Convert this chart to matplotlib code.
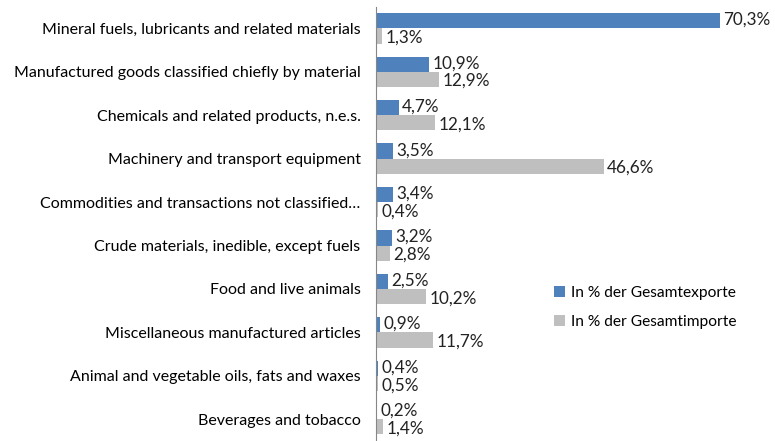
import numpy as np
import matplotlib.pyplot as plt

plt.rcParams['font.family'] = ['Lato', 'DejaVu Sans']

# Daten
kategorien = [
    'Mineral fuels, lubricants and related materials',
    'Manufactured goods classified chiefly by material',
    'Chemicals and related products, n.e.s.',
    'Machinery and transport equipment',
    'Commodities and transactions not classified…',
    'Crude materials, inedible, except fuels',
    'Food and live animals',
    'Miscellaneous manufactured articles',
    'Animal and vegetable oils, fats and waxes',
    'Beverages and tobacco',
]
exporte = [70.3, 10.9, 4.7, 3.5, 3.4, 3.2, 2.5, 0.9, 0.4, 0.2]
importe = [1.3, 12.9, 12.1, 46.6, 0.4, 2.8, 10.2, 11.7, 0.5, 1.4]

blau = '#4F81BD'
grau = '#BFBFBF'

fig = plt.figure(figsize=(7.75, 4.41), dpi=100)
ax = fig.add_axes([0.485, 0.0, 0.505, 0.985])

y = np.arange(len(kategorien))
h = 0.35
ax.barh(y - h / 2, exporte, height=h, color=blau, label='In % der Gesamtexporte')
ax.barh(y + h / 2, importe, height=h, color=grau, label='In % der Gesamtimporte')

for yi, v in zip(y, exporte):
    ax.text(v + 0.7, yi - h / 2 - 0.02, f'{v:.1f}%'.replace('.', ','), va='center', ha='left',
            fontsize=12.3, color='#222222')
for yi, v in zip(y, importe):
    ax.text(v + 0.7, yi + h / 2 + 0.04, f'{v:.1f}%'.replace('.', ','), va='center', ha='left',
            fontsize=12.3, color='#222222')

ax.set_yticks(y)
ax.set_yticklabels(kategorien, fontsize=11.5)
ax.tick_params(axis='y', length=0, pad=11)
ax.set_ylim(len(kategorien) - 0.5, -0.5)
ax.set_xlim(0, 80)
ax.set_xticks([])
for s in ['top', 'right', 'bottom']:
    ax.spines[s].set_visible(False)
ax.spines['left'].set_color('#868686')

ax.legend(loc='upper left', bbox_to_anchor=(0.42, 0.39), frameon=False, fontsize=11.2,
          handlelength=0.7, handleheight=0.7, handletextpad=0.4, labelspacing=1.0)

plt.savefig('out.png', dpi=100)
